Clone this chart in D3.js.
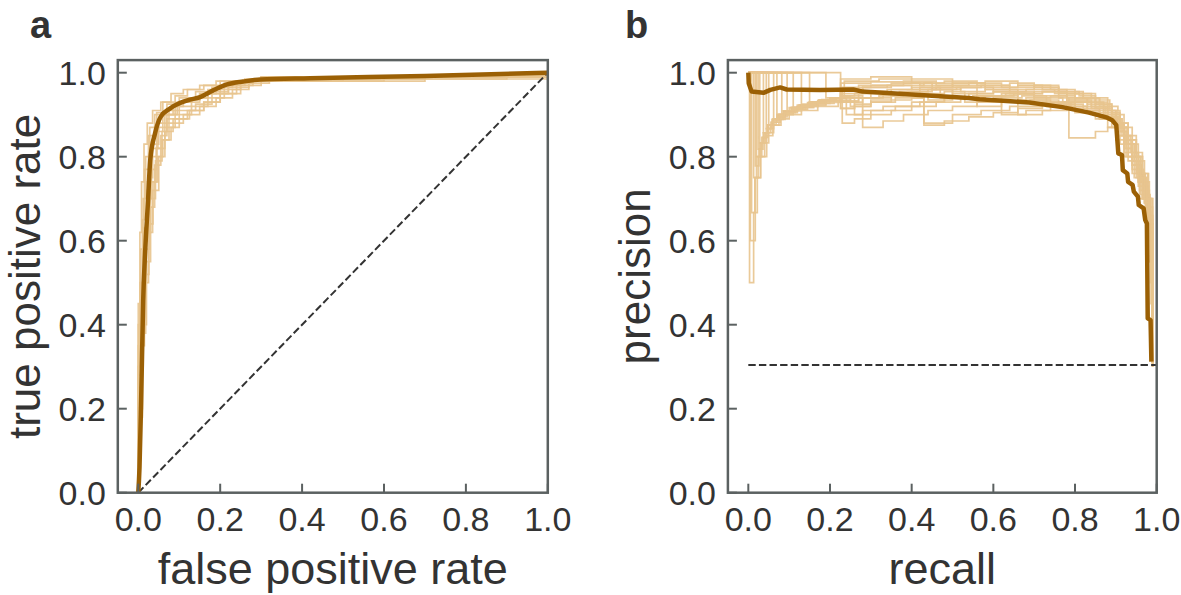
<!DOCTYPE html>
<html><head><meta charset="utf-8">
<script src="https://cdn.jsdelivr.net/npm/d3@7"></script>
<style>
body{margin:0;background:#fff}
text{font-family:"Liberation Sans",Arial,Helvetica,sans-serif;fill:#333}
</style>
</head><body>
<svg id="c" width="1181" height="595"></svg>
<script>
// ---------- data ----------
const tickValues = [0, 0.2, 0.4, 0.6, 0.8, 1.0];
const tickLabels = ["0.0", "0.2", "0.4", "0.6", "0.8", "1.0"];
const panelLetters = ["a", "b"];
const xTitles = ["false positive rate", "recall"];
const yTitles = ["true positive rate", "precision"];

// ROC: mean curve [fpr, tpr]
const rocMean = [[0,0],[0.003,0.06],[0.007,0.22],[0.012,0.458],[0.017,0.578],[0.024,0.698],[0.029,0.79],[0.041,0.856],[0.054,0.894],[0.078,0.915],[0.12,0.934],[0.151,0.942],[0.183,0.958],[0.217,0.972],[0.256,0.979],[0.298,0.984],[0.42,0.987],[0.7,0.992],[1.0,1.0]];
// ROC: individual folds (step curves)
const rocFolds = [
 [[0,0],[0,0.35],[0.008,0.5],[0.012,0.62],[0.02,0.72],[0.03,0.8],[0.045,0.86],[0.06,0.9],[0.09,0.92],[0.13,0.94],[0.17,0.96],[0.21,0.975],[0.26,0.985],[0.5,0.99],[0.8,0.995],[1,1]],
 [[0,0],[0,0.25],[0.005,0.45],[0.015,0.6],[0.025,0.75],[0.035,0.83],[0.05,0.88],[0.075,0.91],[0.1,0.93],[0.15,0.95],[0.2,0.97],[0.24,0.98],[0.35,0.985],[0.7,0.995],[1,1]],
 [[0,0],[0,0.2],[0.01,0.4],[0.02,0.55],[0.03,0.68],[0.04,0.78],[0.055,0.85],[0.07,0.89],[0.1,0.91],[0.14,0.925],[0.18,0.95],[0.22,0.97],[0.28,0.98],[0.6,0.99],[1,1]],
 [[0,0],[0,0.3],[0.004,0.5],[0.01,0.65],[0.015,0.77],[0.025,0.85],[0.04,0.9],[0.06,0.93],[0.09,0.945],[0.12,0.96],[0.16,0.97],[0.2,0.98],[0.3,0.99],[1,1]],
 [[0,0],[0,0.15],[0.006,0.35],[0.015,0.5],[0.025,0.62],[0.035,0.72],[0.05,0.8],[0.065,0.86],[0.085,0.89],[0.12,0.91],[0.16,0.93],[0.2,0.95],[0.25,0.97],[0.3,0.98],[0.7,0.99],[1,1]],
 [[0,0],[0,0.4],[0.006,0.58],[0.012,0.7],[0.018,0.8],[0.028,0.87],[0.045,0.905],[0.07,0.925],[0.1,0.94],[0.14,0.955],[0.18,0.965],[0.23,0.98],[0.4,0.99],[1,1]],
 [[0,0],[0,0.22],[0.008,0.42],[0.016,0.58],[0.028,0.7],[0.042,0.79],[0.058,0.84],[0.075,0.88],[0.11,0.9],[0.15,0.92],[0.19,0.94],[0.23,0.96],[0.27,0.975],[0.32,0.985],[0.9,0.995],[1,1]],
 [[0,0],[0,0.28],[0.005,0.48],[0.012,0.63],[0.022,0.74],[0.032,0.82],[0.048,0.87],[0.065,0.9],[0.085,0.92],[0.11,0.935],[0.15,0.95],[0.19,0.965],[0.24,0.98],[0.5,0.99],[1,1]],
 [[0,0],[0,0.18],[0.01,0.38],[0.018,0.52],[0.026,0.64],[0.036,0.74],[0.048,0.8],[0.06,0.84],[0.08,0.87],[0.1,0.89],[0.125,0.91],[0.16,0.93],[0.2,0.95],[0.24,0.965],[0.27,0.98],[0.4,0.985],[1,1]],
 [[0,0],[0,0.3],[0.012,0.5],[0.02,0.62],[0.03,0.74],[0.045,0.82],[0.065,0.87],[0.09,0.9],[0.13,0.92],[0.17,0.94],[0.21,0.96],[0.25,0.975],[0.28,0.985],[0.6,0.99],[1,1]],
 [[0,0],[0,0.45],[0.004,0.62],[0.008,0.74],[0.014,0.83],[0.022,0.88],[0.035,0.91],[0.055,0.93],[0.08,0.95],[0.11,0.96],[0.15,0.97],[0.19,0.98],[0.3,0.99],[1,1]],
 [[0,0],[0,0.2],[0.007,0.45],[0.014,0.6],[0.022,0.7],[0.032,0.77],[0.044,0.82],[0.058,0.86],[0.07,0.9],[0.095,0.93],[0.13,0.94],[0.17,0.955],[0.22,0.97],[0.26,0.98],[0.5,0.99],[1,1]]
];

// PR: mean curve [recall, precision]
const prMean = [[0,1.0],[0.001,0.975],[0.008,0.955],[0.037,0.952],[0.054,0.959],[0.078,0.965],[0.094,0.96],[0.176,0.959],[0.257,0.96],[0.28,0.955],[0.42,0.947],[0.54,0.94],[0.566,0.937],[0.688,0.929],[0.769,0.918],[0.834,0.905],[0.879,0.893],[0.891,0.887],[0.901,0.875],[0.906,0.808],[0.915,0.804],[0.917,0.768],[0.928,0.76],[0.93,0.74],[0.941,0.733],[0.944,0.717],[0.954,0.705],[0.956,0.685],[0.968,0.677],[0.972,0.649],[0.976,0.641],[0.978,0.415],[0.985,0.411],[0.987,0.312]];
// PR: individual folds (step curves)
const prFolds = [
 [[0,1],[0.003,0.5],[0.013,0.667],[0.022,0.75],[0.03,0.8],[0.04,0.833],[0.05,0.857],[0.062,0.875],[0.075,0.889],[0.09,0.9],[0.11,0.909],[0.13,0.917],[0.16,0.923],[0.19,0.929],[0.23,0.933],[0.27,0.94],[0.32,0.945],[0.38,0.95],[0.44,0.935],[0.5,0.94],[0.58,0.945],[0.66,0.935],[0.74,0.925],[0.8,0.915],[0.86,0.9],[0.9,0.87],[0.92,0.83],[0.94,0.79],[0.96,0.74],[0.975,0.68],[0.982,0.6],[0.986,0.45],[0.99,0.31]],
 [[0,1],[0.008,0.667],[0.016,0.75],[0.024,0.8],[0.033,0.833],[0.043,0.857],[0.055,0.875],[0.068,0.889],[0.085,0.9],[0.1,0.909],[0.12,0.92],[0.15,0.93],[0.18,0.936],[0.2,0.94],[0.24,0.9],[0.28,0.91],[0.33,0.92],[0.4,0.93],[0.48,0.94],[0.56,0.945],[0.62,0.95],[0.7,0.93],[0.78,0.935],[0.84,0.92],[0.88,0.895],[0.91,0.86],[0.93,0.8],[0.95,0.76],[0.965,0.7],[0.978,0.64],[0.985,0.5],[0.99,0.3]],
 [[0,1],[0.013,0.75],[0.02,0.8],[0.028,0.833],[0.037,0.857],[0.047,0.875],[0.058,0.889],[0.07,0.9],[0.085,0.909],[0.1,0.917],[0.12,0.923],[0.145,0.929],[0.17,0.933],[0.2,0.94],[0.23,0.945],[0.25,0.92],[0.3,0.93],[0.36,0.94],[0.43,0.88],[0.5,0.9],[0.57,0.91],[0.64,0.92],[0.72,0.93],[0.8,0.91],[0.86,0.89],[0.9,0.85],[0.925,0.8],[0.945,0.75],[0.96,0.71],[0.975,0.66],[0.984,0.55],[0.99,0.31]],
 [[0,1],[0.02,0.8],[0.03,0.833],[0.04,0.857],[0.05,0.875],[0.062,0.889],[0.075,0.9],[0.09,0.909],[0.11,0.917],[0.13,0.923],[0.155,0.929],[0.18,0.935],[0.21,0.94],[0.23,0.965],[0.3,0.97],[0.38,0.975],[0.45,0.96],[0.52,0.965],[0.6,0.955],[0.68,0.96],[0.75,0.95],[0.8,0.94],[0.85,0.925],[0.89,0.9],[0.91,0.87],[0.93,0.84],[0.95,0.8],[0.965,0.72],[0.975,0.66],[0.983,0.6],[0.99,0.31]],
 [[0,1],[0.028,0.833],[0.037,0.857],[0.048,0.875],[0.06,0.889],[0.072,0.9],[0.088,0.909],[0.105,0.917],[0.125,0.923],[0.15,0.929],[0.175,0.935],[0.2,0.94],[0.226,0.945],[0.26,0.95],[0.3,0.955],[0.35,0.96],[0.42,0.965],[0.5,0.97],[0.58,0.96],[0.66,0.95],[0.72,0.955],[0.78,0.94],[0.83,0.93],[0.87,0.91],[0.9,0.88],[0.92,0.85],[0.94,0.81],[0.955,0.77],[0.968,0.73],[0.98,0.65],[0.99,0.32]],
 [[0,1],[0.037,0.857],[0.048,0.875],[0.06,0.889],[0.073,0.9],[0.088,0.909],[0.105,0.917],[0.125,0.923],[0.148,0.929],[0.172,0.935],[0.2,0.94],[0.226,0.915],[0.26,0.925],[0.3,0.935],[0.35,0.945],[0.42,0.95],[0.48,0.955],[0.53,0.93],[0.6,0.94],[0.67,0.945],[0.73,0.92],[0.79,0.93],[0.84,0.915],[0.88,0.895],[0.905,0.86],[0.925,0.82],[0.94,0.78],[0.955,0.74],[0.97,0.69],[0.982,0.62],[0.99,0.3]],
 [[0,1],[0.05,0.875],[0.062,0.889],[0.075,0.9],[0.09,0.909],[0.107,0.917],[0.126,0.923],[0.148,0.929],[0.172,0.935],[0.2,0.94],[0.23,0.88],[0.26,0.89],[0.3,0.9],[0.35,0.91],[0.4,0.92],[0.46,0.93],[0.52,0.94],[0.58,0.945],[0.65,0.95],[0.72,0.955],[0.78,0.94],[0.83,0.925],[0.87,0.905],[0.9,0.88],[0.92,0.84],[0.94,0.79],[0.955,0.74],[0.965,0.7],[0.978,0.63],[0.99,0.31]],
 [[0,1],[0.062,0.889],[0.076,0.9],[0.092,0.909],[0.11,0.917],[0.13,0.923],[0.152,0.929],[0.176,0.935],[0.2,0.94],[0.226,0.975],[0.3,0.978],[0.38,0.98],[0.46,0.97],[0.54,0.975],[0.62,0.965],[0.7,0.97],[0.76,0.955],[0.82,0.94],[0.86,0.92],[0.89,0.9],[0.91,0.87],[0.93,0.83],[0.95,0.78],[0.962,0.74],[0.975,0.68],[0.984,0.64],[0.99,0.32]],
 [[0,1],[0.082,0.9],[0.1,0.909],[0.12,0.917],[0.142,0.923],[0.166,0.929],[0.19,0.935],[0.215,0.94],[0.24,0.945],[0.28,0.87],[0.33,0.885],[0.38,0.9],[0.44,0.91],[0.5,0.92],[0.56,0.93],[0.62,0.9],[0.68,0.91],[0.74,0.92],[0.8,0.905],[0.85,0.89],[0.88,0.87],[0.9,0.84],[0.92,0.8],[0.94,0.76],[0.958,0.7],[0.975,0.62],[0.983,0.55],[0.99,0.31]],
 [[0,1],[0.11,0.915],[0.135,0.923],[0.16,0.929],[0.185,0.935],[0.21,0.94],[0.23,0.96],[0.28,0.965],[0.34,0.97],[0.4,0.96],[0.46,0.965],[0.52,0.955],[0.58,0.96],[0.64,0.95],[0.7,0.955],[0.76,0.94],[0.785,0.845],[0.85,0.86],[0.88,0.87],[0.9,0.85],[0.92,0.81],[0.94,0.77],[0.958,0.72],[0.972,0.67],[0.985,0.6],[0.99,0.31]],
 [[0,1],[0.15,0.93],[0.18,0.935],[0.21,0.94],[0.226,0.96],[0.28,0.965],[0.35,0.97],[0.43,0.975],[0.5,0.965],[0.57,0.97],[0.64,0.96],[0.7,0.965],[0.76,0.955],[0.81,0.945],[0.85,0.93],[0.88,0.91],[0.9,0.89],[0.915,0.86],[0.93,0.83],[0.945,0.8],[0.96,0.76],[0.972,0.71],[0.984,0.66],[0.99,0.33]],
 [[0,1],[0.226,0.915],[0.26,0.92],[0.3,0.93],[0.35,0.935],[0.4,0.94],[0.43,0.875],[0.48,0.885],[0.54,0.895],[0.6,0.905],[0.66,0.915],[0.72,0.925],[0.78,0.92],[0.83,0.91],[0.87,0.895],[0.9,0.87],[0.92,0.83],[0.94,0.79],[0.955,0.75],[0.968,0.7],[0.98,0.64],[0.99,0.3]],
 [[0,1],[0.005,0.6],[0.017,0.75],[0.03,0.8],[0.045,0.85],[0.06,0.875],[0.08,0.89],[0.1,0.9],[0.13,0.91],[0.17,0.92],[0.22,0.93],[0.28,0.94],[0.35,0.95],[0.42,0.96],[0.5,0.95],[0.6,0.955],[0.7,0.945],[0.78,0.935],[0.85,0.915],[0.89,0.89],[0.915,0.85],[0.935,0.81],[0.955,0.76],[0.97,0.72],[0.982,0.66],[0.99,0.31]],
 [[0,1],[0.017,0.778],[0.026,0.818],[0.036,0.846],[0.048,0.867],[0.062,0.882],[0.078,0.895],[0.095,0.905],[0.115,0.913],[0.14,0.92],[0.17,0.927],[0.21,0.935],[0.25,0.94],[0.3,0.95],[0.37,0.955],[0.44,0.96],[0.5,0.94],[0.56,0.945],[0.63,0.95],[0.7,0.94],[0.77,0.93],[0.83,0.92],[0.875,0.9],[0.9,0.875],[0.92,0.84],[0.94,0.8],[0.96,0.75],[0.975,0.7],[0.985,0.62],[0.99,0.31]],
 [[0,1],[0.024,0.818],[0.033,0.846],[0.044,0.867],[0.056,0.882],[0.07,0.895],[0.088,0.905],[0.108,0.913],[0.13,0.92],[0.16,0.927],[0.19,0.933],[0.226,0.94],[0.27,0.97],[0.35,0.975],[0.42,0.97],[0.5,0.975],[0.58,0.965],[0.66,0.97],[0.74,0.96],[0.8,0.95],[0.85,0.935],[0.885,0.91],[0.91,0.88],[0.93,0.85],[0.95,0.81],[0.965,0.76],[0.98,0.7],[0.99,0.32]],
 [[0,1],[0.044,0.867],[0.056,0.882],[0.07,0.895],[0.088,0.905],[0.108,0.913],[0.13,0.92],[0.16,0.927],[0.19,0.933],[0.226,0.94],[0.26,0.9],[0.3,0.91],[0.36,0.92],[0.42,0.93],[0.48,0.94],[0.55,0.945],[0.62,0.93],[0.69,0.935],[0.76,0.925],[0.82,0.91],[0.86,0.89],[0.89,0.87],[0.91,0.83],[0.93,0.79],[0.95,0.75],[0.965,0.7],[0.98,0.64],[0.99,0.3]],
 [[0,1],[0.07,0.895],[0.088,0.905],[0.108,0.913],[0.13,0.92],[0.155,0.927],[0.185,0.933],[0.215,0.94],[0.235,0.98],[0.32,0.985],[0.4,0.975],[0.48,0.98],[0.56,0.97],[0.64,0.975],[0.7,0.965],[0.76,0.95],[0.82,0.94],[0.86,0.925],[0.89,0.905],[0.91,0.88],[0.93,0.84],[0.95,0.8],[0.965,0.76],[0.978,0.7],[0.99,0.33]],
 [[0,1],[0.095,0.905],[0.12,0.913],[0.145,0.92],[0.17,0.927],[0.2,0.933],[0.226,0.95],[0.28,0.955],[0.34,0.96],[0.4,0.965],[0.47,0.94],[0.54,0.95],[0.6,0.955],[0.66,0.9],[0.72,0.91],[0.78,0.92],[0.83,0.905],[0.87,0.89],[0.9,0.86],[0.92,0.82],[0.94,0.78],[0.955,0.73],[0.97,0.69],[0.983,0.63],[0.99,0.31]],
 [[0,1],[0.13,0.925],[0.16,0.93],[0.19,0.935],[0.226,0.985],[0.3,0.99],[0.4,0.985],[0.5,0.975],[0.58,0.98],[0.66,0.97],[0.72,0.96],[0.78,0.95],[0.84,0.94],[0.88,0.92],[0.905,0.9],[0.92,0.87],[0.94,0.83],[0.955,0.79],[0.97,0.74],[0.982,0.68],[0.99,0.33]],
 [[0,1],[0.19,0.94],[0.226,0.93],[0.27,0.94],[0.33,0.95],[0.39,0.955],[0.45,0.96],[0.51,0.965],[0.56,0.92],[0.62,0.93],[0.68,0.94],[0.74,0.945],[0.8,0.93],[0.85,0.915],[0.88,0.895],[0.905,0.87],[0.925,0.83],[0.945,0.79],[0.96,0.75],[0.975,0.7],[0.986,0.64],[0.99,0.31]]
];
const prBaseline = 0.304;

// ---------- drawing ----------
const svg = d3.select("#c");
const axisColor = "#5b6161";
const meanColor = "#9b6005";
const foldColor = "#e8c48e";

const panels = [
  {x0: 117.8, x1: 547.8, letterX: 30},
  {x0: 727.9, x1: 1156.7, letterX: 625}
];
const yTop = 60.1, yBot = 492.7;

panels.forEach((p, i) => {
  const x = d3.scaleLinear().domain([-0.05, 1.0]).range([p.x0, p.x1]);
  const y = d3.scaleLinear().domain([0, 1.03]).range([yBot, yTop]);
  const g = svg.append("g");

  const folds = i === 0 ? rocFolds : prFolds;
  const mean = i === 0 ? rocMean : prMean;

  const stepLine = d3.line().x(d => x(d[0])).y(d => y(d[1])).curve(d3.curveStepAfter);
  g.selectAll("path.fold").data(folds).enter().append("path")
    .attr("class", "fold")
    .attr("d", stepLine)
    .attr("fill", "none")
    .attr("stroke", foldColor)
    .attr("stroke-opacity", 0.9)
    .attr("stroke-width", 1.7);

  // chance line
  const chance = i === 0 ? [[0,0],[1,1]] : [[0,prBaseline],[1,prBaseline]];
  g.append("path")
    .attr("d", d3.line().x(d => x(d[0])).y(d => y(d[1]))(chance))
    .attr("fill", "none")
    .attr("stroke", "#333")
    .attr("stroke-width", 2)
    .attr("stroke-dasharray", "7.4,3.2");

  const meanLine = d3.line().x(d => x(d[0])).y(d => y(d[1]))
    .curve(i === 0 ? d3.curveMonotoneX : d3.curveLinear);
  g.append("path")
    .attr("d", meanLine(mean))
    .attr("fill", "none")
    .attr("stroke", meanColor)
    .attr("stroke-width", 4.5)
    .attr("stroke-linejoin", "round");

  // frame
  g.append("rect")
    .attr("x", p.x0).attr("y", yTop)
    .attr("width", p.x1 - p.x0).attr("height", yBot - yTop)
    .attr("fill", "none").attr("stroke", axisColor).attr("stroke-width", 2.5);

  // ticks (inward)
  g.selectAll("line.xt").data(tickValues).enter().append("line")
    .attr("x1", d => x(d)).attr("x2", d => x(d))
    .attr("y1", yBot).attr("y2", yBot - 9)
    .attr("stroke", axisColor).attr("stroke-width", 2);
  g.selectAll("line.yt").data(tickValues).enter().append("line")
    .attr("x1", p.x0).attr("x2", p.x0 + 9)
    .attr("y1", d => y(d)).attr("y2", d => y(d))
    .attr("stroke", axisColor).attr("stroke-width", 2);

  // tick labels
  g.selectAll("text.xl").data(tickValues).enter().append("text")
    .attr("x", d => x(d)).attr("y", 531)
    .attr("text-anchor", "middle").attr("font-size", 34)
    .text((d, k) => tickLabels[k]);
  g.selectAll("text.yl").data(tickValues).enter().append("text")
    .attr("x", p.x0 - 12).attr("y", d => y(d) + 12)
    .attr("text-anchor", "end").attr("font-size", 34)
    .text((d, k) => tickLabels[k]);

  // axis titles
  g.append("text")
    .attr("x", (p.x0 + p.x1) / 2).attr("y", 584)
    .attr("text-anchor", "middle").attr("font-size", 45)
    .text(xTitles[i]);
  const yc = (yTop + yBot) / 2;
  g.append("text")
    .attr("transform", `translate(${p.x0 - 78},${yc}) rotate(-90)`)
    .attr("text-anchor", "middle").attr("font-size", 44)
    .text(yTitles[i]);

  // panel letter
  g.append("text")
    .attr("x", p.letterX).attr("y", 38)
    .attr("font-size", 38).attr("font-weight", "bold")
    .text(panelLetters[i]);
});
</script>
</body></html>
